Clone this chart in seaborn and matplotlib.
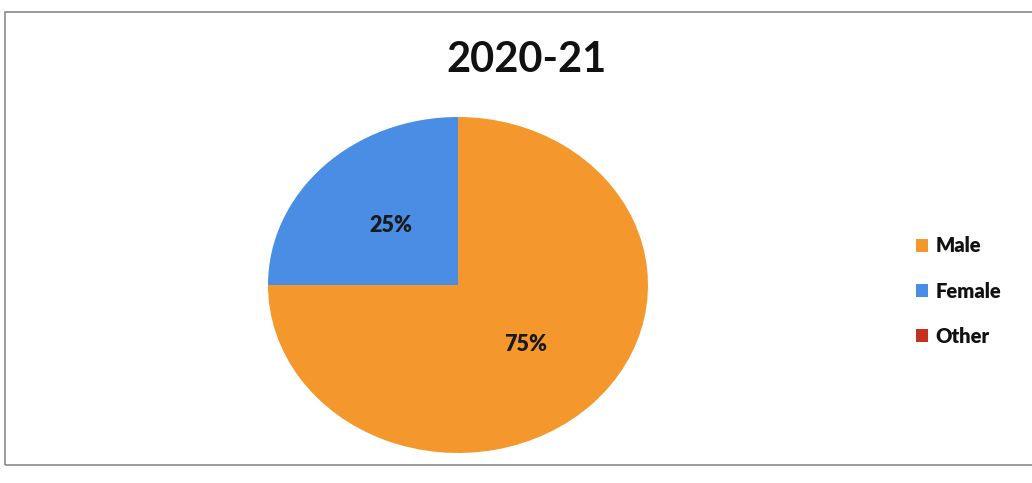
import matplotlib
matplotlib.use("Agg")
import matplotlib.pyplot as plt
from matplotlib.patches import Patch, Rectangle
import seaborn as sns

categories = ["Male", "Female", "Other"]
values = [75, 25, 0]
colors = ["#F4982E", "#4A8DE4", "#C4321E"]
title = "2020-21"

sns.set_theme(style="white")
plt.rcParams['font.family'] = ['Lato', 'DejaVu Sans']

W, H = 1032, 483
fig = plt.figure(figsize=(W / 100, H / 100), dpi=100)
fig.patch.set_facecolor("white")

# pie area (pixel-based placement)
x0, x1, ytop, ybot = 268, 648, 117, 453
ax = fig.add_axes([x0 / W, (H - ybot) / H, (x1 - x0) / W, (ybot - ytop) / H])

def fmt(p):
    return f"{p:.0f}%" if p > 0.5 else ""

wedges, texts, autotexts = ax.pie(
    values, colors=colors, startangle=90, counterclock=False,
    autopct=fmt, pctdistance=0.5,
    textprops=dict(fontsize=15.5, fontweight="heavy", color="#1a1a1a"),
    wedgeprops=dict(linewidth=0),
)
ax.set_aspect("auto")
ax.set_xlim(-1, 1)
ax.set_ylim(-1, 1)
ax.axis("off")

fig.text(526 / W, 1 - 60 / H, title, ha="center", va="center",
         fontsize=30, fontweight="bold", color="#111111")

handles = [Patch(facecolor=c, edgecolor="none") for c in colors]
leg = fig.legend(handles, categories, loc="center left",
                 bbox_to_anchor=(898 / W, 1 - 291 / H), frameon=False,
                 prop=dict(size=14.5, weight="heavy"), handlelength=0.6,
                 handleheight=0.6, handletextpad=0.35, labelspacing=1.3)
for t in leg.get_texts():
    t.set_color("#111111")

# outer frame
fig.add_artist(Rectangle((5 / W, (H - 465) / H), 1.1, (465 - 12) / H,
                         transform=fig.transFigure, fill=False,
                         edgecolor="#8a8a8a", linewidth=1.2, clip_on=False))

fig.savefig("out.png", dpi=100, facecolor="white")
